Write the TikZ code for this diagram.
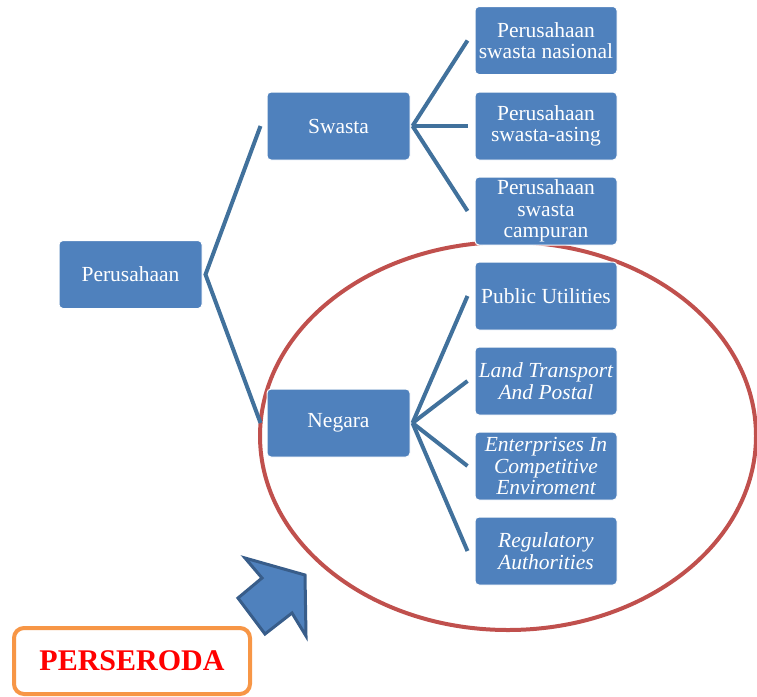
\documentclass[tikz,border=0pt]{standalone}
\usepackage{fontspec}
\setmainfont{Liberation Serif}
\definecolor{boxblue}{HTML}{4F81BD}
\definecolor{lineblue}{HTML}{41719C}
\definecolor{arrowedge}{HTML}{385D8A}
\definecolor{ellred}{HTML}{C0504D}
\definecolor{orangeedge}{HTML}{F79646}
\tikzset{
  bluebox/.style={draw=white, line width=1pt, fill=boxblue, rounded corners=4pt,
    minimum width=143pt, minimum height=68pt, inner sep=0pt, align=center,
    text=white, font=\fontsize{21.5}{21.5}\selectfont},
  link/.style={draw=lineblue, line width=4pt, line join=miter},
}
\begin{document}
\begin{tikzpicture}[x=1pt,y=-1pt]
\useasboundingbox (0,0) rectangle (757,696);
% ellipse behind
\draw[ellred, line width=4pt] (508,436) ellipse [x radius=248, y radius=194];
% boxes
\node[bluebox] (per) at (130.5,274.5) {Perusahaan};
\node[bluebox] (swa) at (338.5,126) {Swasta};
\node[bluebox] (neg) at (338.5,423) {Negara};
\node[bluebox, minimum width=142pt] (nas) at (546,40.5) {Perusahaan\\swasta nasional};
\node[bluebox, minimum width=142pt] (asi) at (546,126) {Perusahaan\\swasta-asing};
\node[bluebox, minimum width=142pt] (cam) at (546,211) {Perusahaan\\swasta\\campuran};
\node[bluebox, minimum width=142pt] (pub) at (546,296) {Public Utilities};
\node[bluebox, minimum width=142pt] (lan) at (546,381) {\itshape Land Transport\\\itshape And Postal};
\node[bluebox, minimum width=142pt] (ent) at (546,466) {\itshape Enterprises In\\\itshape Competitive\\\itshape Enviroment};
\node[bluebox, minimum width=142pt] (reg) at (546,551) {\itshape Regulatory\\\itshape Authorities};
% connectors
\draw[link] ([xshift=-6pt]swa.west) -- ([xshift=3pt]per.east) -- ([xshift=-6pt]neg.west);
\foreach \c in {nas,asi,cam}{
  \draw[link] ([xshift=2pt]swa.east) -- ([xshift=-7pt]\c.west);
}
\foreach \c in {pub,lan,ent,reg}{
  \draw[link] ([xshift=2pt]neg.east) -- ([xshift=-7pt]\c.west);
}
% block arrow
\coordinate (a1) at (245,558);
\coordinate (a2) at (305,575);
\coordinate (a3) at (306,636);
\coordinate (a4) at (292,613);
\coordinate (a5) at (265,634);
\coordinate (a6) at (238,598);
\coordinate (a7) at (262,578);
\draw[arrowedge, fill=boxblue, line width=3pt, line join=miter]
  (a1) -- (a2) -- (a3) -- (a4) -- (a5) -- (a6) -- (a7) -- cycle;
% PERSERODA label
\node[draw=orangeedge, line width=4pt, rounded corners=10pt, fill=white,
  minimum width=236pt, minimum height=66pt, inner sep=0pt,
  text=red, font=\fontsize{30}{32}\selectfont\bfseries] (pers) at (132,661) {PERSERODA};
\end{tikzpicture}
\end{document}
